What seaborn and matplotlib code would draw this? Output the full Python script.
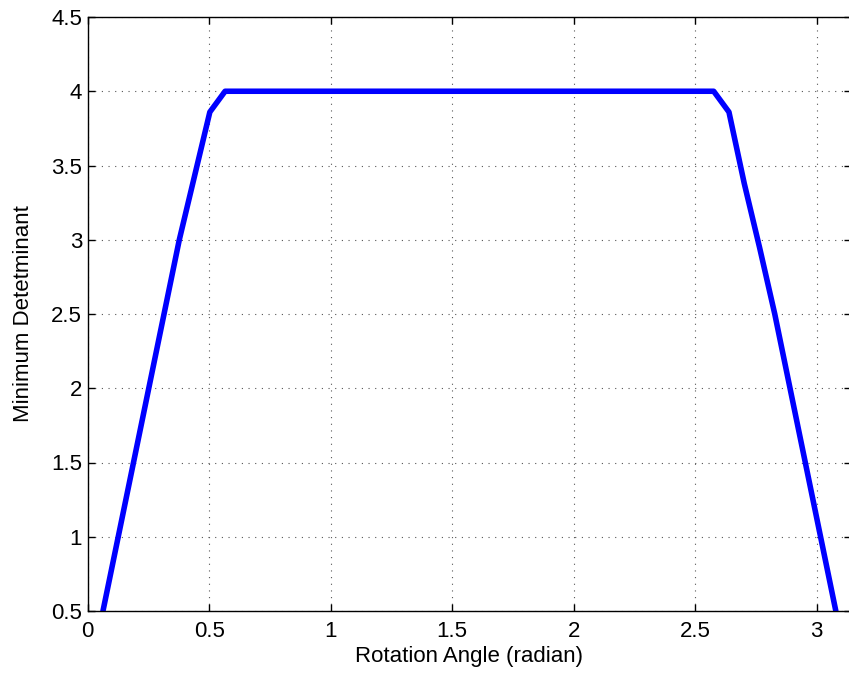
import numpy as np
import pandas as pd
import matplotlib
matplotlib.use('Agg')
import matplotlib.pyplot as plt
import seaborn as sns

# rotation angle samples (k * pi / 50, k = 1..49) and min determinant
step_index = list(range(1, 50))
min_det = ([0.5, 1.0, 1.5, 2.0, 2.5, 3.0, 3.43, 3.86]
           + [4.0] * 33
           + [3.86, 3.38, 2.95, 2.5, 2.0, 1.5, 1.0, 0.5])

angle = [k * np.pi / 50 for k in step_index]
data = pd.DataFrame({'angle': angle, 'det': min_det})

sns.set_style('ticks')
plt.rcParams['font.family'] = ['Liberation Sans', 'DejaVu Sans']

fig = plt.figure(figsize=(8.49, 6.79), dpi=100)
ax = fig.add_axes([87.7 / 849, 68 / 679, 763.4 / 849, 594 / 679])

sns.lineplot(data=data, x='angle', y='det', sort=False, color='#0000ff',
             linewidth=4, ax=ax)

ax.set_xlim(0, np.pi)
ax.set_ylim(0.5, 4.5)
ax.set_xticks([0, 0.5, 1, 1.5, 2, 2.5, 3])
ax.set_xticklabels(['0', '0.5', '1', '1.5', '2', '2.5', '3'])
ax.set_yticks([0.5, 1, 1.5, 2, 2.5, 3, 3.5, 4, 4.5])
ax.set_yticklabels(['0.5', '1', '1.5', '2', '2.5', '3', '3.5', '4', '4.5'])
ax.grid(True, linestyle=(0, (1, 5)), color='#555555', linewidth=0.8)
ax.tick_params(direction='in', top=True, right=True, length=5, width=1,
               labelsize=16, colors='black')
ax.tick_params(axis='x', pad=7)
ax.tick_params(axis='y', pad=4)
for s in ax.spines.values():
    s.set_visible(True)
    s.set_color('black')
    s.set_linewidth(1)

ax.set_xlabel('Rotation Angle (radian)', fontsize=16, labelpad=3, color='black')
ax.set_ylabel('Minimum Detetminant', fontsize=16, labelpad=12, color='black')

fig.savefig('out.png', dpi=100, facecolor='white')
